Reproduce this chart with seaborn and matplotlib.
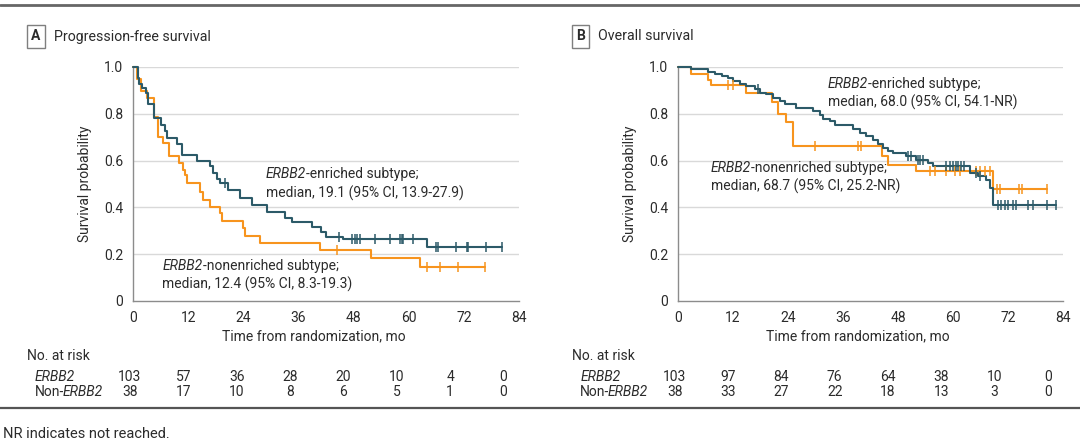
import numpy as np
import pandas as pd
import matplotlib
matplotlib.use("Agg")
import matplotlib.pyplot as plt
import seaborn as sns

# Kaplan-Meier curves (step-post: time, survival after event)
pfs_e_t = [0, 1.0, 1.4, 1.9, 2.9, 3.2, 4.6, 6.0, 7.0, 7.4, 9.5, 10.6, 13.9, 16.8, 17.5, 18.3, 18.9, 20.7,
           23.3, 25.8, 29.1, 33.0, 34.5, 39.0, 41.0, 42.1, 45.8, 63.9, 80.4]
pfs_e_s = [1.0, 0.954, 0.926, 0.911, 0.89, 0.84, 0.783, 0.754, 0.726, 0.697, 0.669, 0.626, 0.60, 0.575,
           0.547, 0.52, 0.503, 0.474, 0.439, 0.41, 0.38, 0.353, 0.339, 0.318, 0.297, 0.275, 0.265, 0.232, 0.232]
pfs_e_cens = [20.0, 44.8, 47.7, 48.4, 48.8, 49.5, 52.7, 55.9, 58.1, 58.5, 58.8, 61.0,
              65.9, 66.3, 70.3, 72.6, 73.0, 76.8, 80.4]

pfs_n_t = [0, 0.9, 1.8, 3.0, 4.6, 5.4, 6.6, 7.8, 10.0, 10.9, 11.3, 11.8, 14.6, 15.2, 16.7, 18.9, 19.3,
           24.0, 24.4, 27.6, 40.7, 51.9, 62.4, 76.5]
pfs_n_s = [1.0, 0.947, 0.899, 0.866, 0.785, 0.70, 0.675, 0.62, 0.588, 0.56, 0.538, 0.503, 0.467, 0.432,
           0.403, 0.374, 0.342, 0.31, 0.278, 0.246, 0.218, 0.182, 0.146, 0.146]
pfs_n_cens = [44.5, 63.9, 66.7, 70.8, 76.5]

os_e_t = [0, 2.9, 6.5, 8.0, 9.5, 10.9, 12.0, 13.5, 14.9, 16.7, 17.8, 19.3, 20.7, 22.2, 23.3, 25.8, 29.5,
          30.9, 31.6, 33.1, 34.2, 38.2, 39.6, 41.1, 42.5, 43.6, 44.7, 45.8, 46.9, 49.8, 52.0, 54.5, 55.6,
          63.6, 65.5, 67.3, 68.0, 68.7, 82.5]
os_e_s = [1.0, 0.99, 0.98, 0.971, 0.961, 0.951, 0.94, 0.926, 0.919, 0.904, 0.89, 0.883, 0.869, 0.854,
          0.84, 0.823, 0.811, 0.797, 0.776, 0.769, 0.751, 0.733, 0.719, 0.704, 0.69, 0.669, 0.654, 0.64,
          0.633, 0.619, 0.604, 0.59, 0.576, 0.547, 0.533, 0.519, 0.483, 0.411, 0.411]
os_e_cens = [17.5, 50.1, 50.9, 52.4, 52.7, 53.5, 58.5, 59.3, 60.0, 60.6, 61.1, 61.8, 62.5, 65.1, 65.8,
             69.8, 70.5, 71.3, 72.0, 73.1, 73.8, 76.4, 77.5, 80.4, 82.5]

os_n_t = [0, 2.9, 6.5, 7.3, 14.8, 20.4, 21.8, 23.6, 25.0, 44.4, 45.8, 52.0, 68.7, 80.4]
os_n_s = [1.0, 0.971, 0.943, 0.923, 0.89, 0.85, 0.80, 0.765, 0.662, 0.621, 0.583, 0.557, 0.48, 0.48]
os_n_cens = [10.9, 12.0, 29.8, 39.3, 40.0, 54.9, 56.1, 58.5, 60.4, 61.5, 65.1, 65.8, 66.9, 68.0,
             69.5, 70.2, 74.5, 75.1, 80.4]

# Numbers at risk
risk_times = [0, 12, 24, 36, 48, 60, 72, 84]
pfs_risk_e = [103, 57, 36, 28, 20, 10, 4, 0]
pfs_risk_n = [38, 17, 10, 8, 6, 5, 1, 0]
os_risk_e = [103, 97, 84, 76, 64, 38, 10, 0]
os_risk_n = [38, 33, 27, 22, 18, 13, 3, 0]

TEAL = "#2c5a68"
ORANGE = "#f7941e"
GRID = "#d9d9d9"
SPINE = "#8c8c8c"
TXT = "#2b2b2b"

sns.set_style("white")
plt.rcParams["font.family"] = ["Roboto", "DejaVu Sans"]
plt.rcParams["text.color"] = TXT


def step_at(times, surv, x):
    idx = np.searchsorted(np.asarray(times), np.asarray(x), side="right") - 1
    return np.asarray(surv)[idx]


def km_panel(ax, e_t, e_s, e_c, n_t, n_s, n_c):
    for t, s, c, col in [(n_t, n_s, n_c, ORANGE), (e_t, e_s, e_c, TEAL)]:
        df = pd.DataFrame({"time": t, "surv": s})
        sns.lineplot(data=df, x="time", y="surv", ax=ax, drawstyle="steps-post", color=col,
                     linewidth=1.5, estimator=None, sort=False, clip_on=False, zorder=3)
        cdf = pd.DataFrame({"time": c, "surv": step_at(t, s, c)})
        sns.scatterplot(data=cdf, x="time", y="surv", ax=ax, marker="|", color=col, s=45,
                        linewidth=1.1, clip_on=False, zorder=4)
    ax.set_xlim(0, 84)
    ax.set_ylim(0, 1.0)
    ax.set_xticks(np.arange(0, 85, 12))
    ax.set_yticks([0, 0.2, 0.4, 0.6, 0.8, 1.0])
    ax.set_yticklabels(["0", "0.2", "0.4", "0.6", "0.8", "1.0"])
    for y in [0.2, 0.4, 0.6, 0.8, 1.0]:
        ax.axhline(y, color=GRID, linewidth=1.0, zorder=1)
    sns.despine(ax=ax)
    for sp in ["left", "bottom"]:
        ax.spines[sp].set_color(SPINE)
        ax.spines[sp].set_linewidth(1.0)
    ax.tick_params(axis="both", direction="out", length=5, width=1.0, color=SPINE,
                   labelsize=10, labelcolor=TXT, pad=2)
    ax.set_xlabel("Time from randomization, mo", fontsize=10, color=TXT, labelpad=4)
    ax.xaxis.set_label_coords(0.468, -0.12)
    ax.set_ylabel("Survival probability", fontsize=10, color=TXT)
    ax.yaxis.set_label_coords(-0.107, 0.5)


def gene_text(ax, x, y, before, after, **kw):
    # mixed upright / italic text: "before" + italic ERBB2 + "after"
    anchor = ax.text(x, y, before, va="center", ha="left", **kw)
    g = ax.annotate("ERBB2", xycoords=anchor, xy=(1, 0.5), xytext=(-1.2 if before else 0, 0),
                    textcoords="offset points", va="center", ha="left", style="italic", fontsize=10)
    if after:
        ax.annotate(after, xycoords=g, xy=(1, 0.5), va="center", ha="left", fontsize=10)


def risk_table(ax, e_risk, n_risk):
    ax.text(-0.275, -0.235, "No. at risk", transform=ax.transAxes, fontsize=10, va="center", ha="left")
    gene_text(ax, -0.254, -0.323, "", "", transform=ax.transAxes, fontsize=10)
    gene_text(ax, -0.254, -0.388, "Non-", "", transform=ax.transAxes, fontsize=10)
    for i, (a, b) in enumerate(zip(e_risk, n_risk)):
        x = -0.008 + i * 0.1383
        ax.text(x, -0.323, str(a), transform=ax.transAxes, fontsize=10, va="center", ha="center")
        ax.text(x, -0.388, str(b), transform=ax.transAxes, fontsize=10, va="center", ha="center")


def two_line_label(ax, x, y, tail, second):
    gene_text(ax, x, y, "", tail, fontsize=10)
    ax.text(x, y - 0.079, second, fontsize=10, va="center", ha="left")


fig = plt.figure(figsize=(10.8, 4.48), dpi=100)
axA = fig.add_axes([133 / 1080, 1 - 301 / 448, 386 / 1080, 234 / 448])
axB = fig.add_axes([678 / 1080, 1 - 301 / 448, 385 / 1080, 234 / 448])

km_panel(axA, pfs_e_t, pfs_e_s, pfs_e_cens, pfs_n_t, pfs_n_s, pfs_n_cens)
km_panel(axB, os_e_t, os_e_s, os_e_cens, os_n_t, os_n_s, os_n_cens)

two_line_label(axA, 28.9, 0.541, "-enriched subtype;", "median, 19.1 (95% CI, 13.9-27.9)")
two_line_label(axA, 6.4, 0.150, "-nonenriched subtype;", "median, 12.4 (95% CI, 8.3-19.3)")
two_line_label(axB, 32.7, 0.928, "-enriched subtype;", "median, 68.0 (95% CI, 54.1-NR)")
two_line_label(axB, 7.1, 0.567, "-nonenriched subtype;", "median, 68.7 (95% CI, 25.2-NR)")

risk_table(axA, pfs_risk_e, pfs_risk_n)
risk_table(axB, os_risk_e, os_risk_n)

# panel headers
for px, letter, title in [(36, "A", "Progression-free survival"), (580.5, "B", "Overall survival")]:
    fig.text(px / 1080, 1 - 36.5 / 448, letter, fontsize=10, fontweight="bold", ha="center", va="center",
             bbox=dict(boxstyle="square,pad=0.3", fc="white", ec="#7f7f7f", lw=1.0))
    fig.text((px + 18) / 1080, 1 - 36.5 / 448, title, fontsize=10.2, ha="left", va="center")

# rules and footnote
fig.add_artist(plt.Line2D([0, 1], [1 - 5 / 448, 1 - 5 / 448], color="#666666", lw=2.0))
fig.add_artist(plt.Line2D([0, 1], [1 - 408 / 448, 1 - 408 / 448], color="#555555", lw=1.6))
fig.text(3 / 1080, 1 - 434 / 448, "NR indicates not reached.", fontsize=10.5, ha="left", va="center")

fig.savefig("out.png", dpi=100, facecolor="white")
